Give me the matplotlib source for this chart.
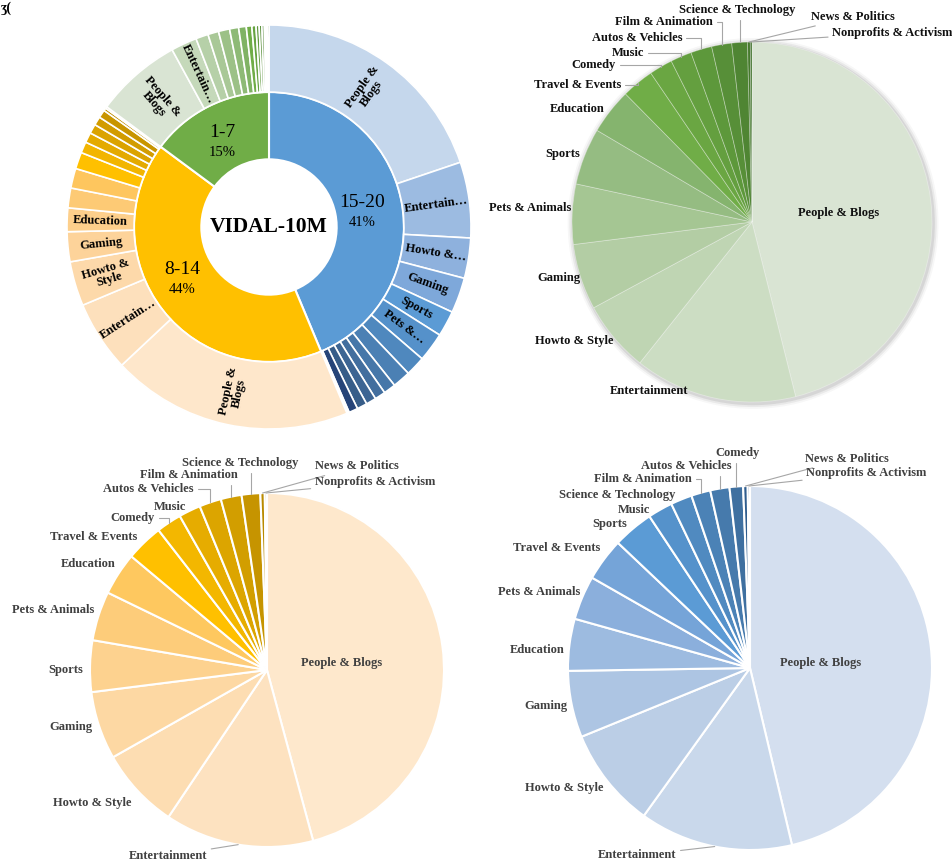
import numpy as np
import matplotlib.pyplot as plt
from matplotlib.patches import Circle

plt.rcParams['font.family'] = ['Liberation Serif', 'DejaVu Serif']

W, H = 952, 863

# ---------------- data ----------------
# sunburst, inner ring (age groups) - printed labels
inner_groups = ['15-20', '8-14', '1-7']
inner_share = [41, 44, 15]

# sunburst, outer ring (category share of the whole in %, per group, in drawing order)
sun_blue = [19.81, 6.06, 3.22, 2.83, 2.06, 2.33, 1.58, 1.44, 0.97, 0.86, 0.81, 0.81, 0.72, 0.11, 0.08]
sun_blue_labels = ['People &\nBlogs', 'Entertain…', 'Howto &…', 'Gaming', 'Sports', 'Pets &…']
sun_yellow = [19.31, 5.67, 3.56, 2.39, 1.89, 1.58, 1.58, 1.33, 0.89, 0.81, 0.75, 0.69, 0.64, 0.22, 0.14]
sun_yellow_labels = ['People &\nBlogs', 'Entertain…', 'Howto &\nStyle', 'Gaming', 'Education']
sun_green = [6.89, 2.08, 1.0, 0.86, 0.89, 0.72, 0.61, 0.44, 0.33, 0.25, 0.22, 0.19, 0.13, 0.10, 0.14]
sun_green_labels = ['People &\nBlogs', 'Entertain…']

# pie 1-7 (green)
cats_green = ['People & Blogs', 'Entertainment', 'Howto & Style', 'Gaming', 'Pets & Animals',
              'Sports', 'Education', 'Travel & Events', 'Comedy', 'Music', 'Autos & Vehicles',
              'Film & Animation', 'Science & Technology', 'News & Politics', 'Nonprofits & Activism']
share_green = [46.1, 14.6, 6.4, 5.9, 5.4, 5.1, 4.1, 2.9, 2.1, 1.9, 1.9, 1.8, 1.4, 0.25, 0.15]

# pie 8-14 (yellow)
cats_yellow = ['People & Blogs', 'Entertainment', 'Howto & Style', 'Gaming', 'Sports',
               'Pets & Animals', 'Education', 'Travel & Events', 'Comedy', 'Music',
               'Autos & Vehicles', 'Film & Animation', 'Science & Technology', 'News & Politics',
               'Nonprofits & Activism']
share_yellow = [45.8, 13.6, 7.4, 6.2, 4.7, 4.5, 3.9, 3.4, 2.3, 2.0, 2.0, 1.9, 1.7, 0.4, 0.2]

# pie 15-20 (blue)
cats_blue = ['People & Blogs', 'Entertainment', 'Howto & Style', 'Gaming', 'Education',
             'Pets & Animals', 'Travel & Events', 'Sports', 'Music', 'Science & Technology',
             'Film & Animation', 'Autos & Vehicles', 'Comedy', 'News & Politics',
             'Nonprofits & Activism']
share_blue = [46.2, 13.6, 8.9, 5.9, 4.6, 3.9, 3.8, 3.6, 2.2, 1.9, 1.7, 1.7, 1.2, 0.4, 0.2]

# ---------------- styles ----------------
inner_colors = ['#5B9BD5', '#FFC000', '#70AD47']
sun_blue_colors = ['#C5D7EC', '#9CBBE1', '#8EB1DD', '#7EA8DA', '#5B9BD5', '#5591CA', '#4F88BE',
                   '#4B80B4', '#4677A9', '#426E9E', '#3D6593', '#375D89', '#264478', '#A9C4E6', '#DCE6F2']
sun_yellow_colors = ['#FEE7CB', '#FDE0BC', '#FDD9AA', '#FDD39A', '#FDCF8B', '#FDCA75', '#FEC65E',
                     '#FFC000', '#F2B500', '#E4AA00', '#DBA300', '#D29C00', '#C89500', '#BE8E00', '#B48700']
sun_green_colors = ['#D9E4D3', '#C5D9BA', '#B6D0A8', '#A9C897', '#9CC187', '#8EBA76', '#80B364',
                    '#70AD47', '#67A342', '#60993D', '#598F39', '#528635', '#4B7D31', '#44742D', '#3D6B29']
green_colors = ['#D9E4D3', '#CCDDC3', '#BFD5B3', '#B3CDA4', '#A5C693', '#95BC82', '#85B46E', '#70AD47',
                '#6AA642', '#649F3F', '#5D983B', '#578F38', '#4F8533', '#467A2D', '#3C6E27']
yellow_colors = ['#FEE8CC', '#FDE2C0', '#FDDDB2', '#FDD8A3', '#FDD28F', '#FDCC7A', '#FEC85F', '#FFC000',
                 '#F3B700', '#E6AC00', '#DCA500', '#D29E00', '#C69400', '#B98A00', '#A67C00']
blue_colors = ['#D4DFEF', '#C9D8EB', '#BBCEE6', '#ADC5E3', '#9DBBE0', '#8BAFDC', '#75A4D8', '#5B9BD5',
               '#5592CB', '#508AC0', '#4B82B6', '#467AAC', '#3F70A0', '#2F5D8E', '#254D7C']

# label positions (pie radius units)
pos_green = [(0.48, 0.05), (-0.57, -0.94), (-0.99, -0.66), (-1.07, -0.31), (-1.23, 0.08),
             (-1.05, 0.38), (-0.97, 0.63), (-0.97, 0.76), (-0.88, 0.87), (-0.69, 0.94),
             (-0.64, 1.02), (-0.49, 1.11), (-0.08, 1.18), (0.56, 1.14), (0.78, 1.05)]
lead_green = [7, 8, 9, 10, 11, 12, 13, 14]
pos_yellow = [(0.42, 0.04), (-0.56, -1.05), (-0.99, -0.75), (-1.11, -0.32), (-1.14, 0.0),
              (-1.21, 0.34), (-1.01, 0.60), (-0.98, 0.75), (-0.76, 0.86), (-0.55, 0.92),
              (-0.67, 1.02), (-0.44, 1.10), (-0.15, 1.17), (0.51, 1.15), (0.61, 1.06)]
lead_yellow = [1, 8, 10, 11, 12, 13, 14]
pos_blue = [(0.39, 0.03), (-0.62, -1.03), (-1.02, -0.66), (-1.12, -0.21), (-1.17, 0.10),
            (-1.16, 0.42), (-1.06, 0.66), (-0.77, 0.79), (-0.64, 0.87), (-0.73, 0.95),
            (-0.59, 1.04), (-0.35, 1.11), (-0.07, 1.18), (0.53, 1.15), (0.64, 1.07)]
lead_blue = [1, 10, 11, 12, 13, 14]

fig = plt.figure(figsize=(W / 100, H / 100), dpi=100)


def pie_axes(cx, cy, r):
    ax = fig.add_axes([(cx - r) / W, 1 - (cy + r) / H, 2 * r / W, 2 * r / H])
    return ax


def mid_angles(vals):
    vals = np.asarray(vals, dtype=float)
    cum = np.cumsum(vals) / vals.sum() * 360
    start = cum - vals / vals.sum() * 360
    return 90 - (start + cum) / 2  # math angle, degrees


def labelled_pie(ax, vals, cats, colors, pos, leads, txtcolor, edge, lw):
    ax.pie(vals, colors=colors, startangle=90, counterclock=False, radius=1,
           wedgeprops=dict(edgecolor=edge, linewidth=lw))
    ang = np.deg2rad(mid_angles(vals))
    for i, (name, (x, y)) in enumerate(zip(cats, pos)):
        if i in leads:
            px, py = np.cos(ang[i]), np.sin(ang[i])
            if x < 0 and y > 0:
                cs = 'angle,angleA=0,angleB=90,rad=0'
            else:
                cs = 'arc3'
            ax.annotate(name, xy=(px, py), xytext=(x, y), ha='center', va='center',
                        fontsize=9, fontweight='bold', color=txtcolor, annotation_clip=False,
                        arrowprops=dict(arrowstyle='-', color='#a6a6a6', lw=0.8,
                                        shrinkA=1, shrinkB=0, connectionstyle=cs))
        else:
            ax.text(x, y, name, ha='center', va='center', fontsize=9,
                    fontweight='bold', color=txtcolor)
    ax.set_xlim(-1, 1)
    ax.set_ylim(-1, 1)


# ---------------- sunburst ----------------
ax = pie_axes(269, 227, 202)
r_hole, r_mid = 0.335, 0.668
inner_drawn = [sum(sun_blue), sum(sun_yellow), sum(sun_green)]
ax.pie(inner_drawn, colors=inner_colors, radius=r_mid, startangle=90, counterclock=False,
       wedgeprops=dict(width=r_mid - r_hole, edgecolor='white', linewidth=1.5))
outer_vals = sun_blue + sun_yellow + sun_green
outer_cols = sun_blue_colors + sun_yellow_colors + sun_green_colors
ax.pie(outer_vals, colors=outer_cols, radius=1.0, startangle=90, counterclock=False,
       wedgeprops=dict(width=1 - r_mid, edgecolor='white', linewidth=1.2))

outer_labels = (sun_blue_labels + [''] * (len(sun_blue) - len(sun_blue_labels))
                + sun_yellow_labels + [''] * (len(sun_yellow) - len(sun_yellow_labels))
                + sun_green_labels + [''] * (len(sun_green) - len(sun_green_labels)))
r_lab = (1 + r_mid) / 2
for lab, th in zip(outer_labels, mid_angles(outer_vals)):
    if not lab:
        continue
    th = (th + 180) % 360 - 180
    rot = th if -90 <= th <= 90 else th + 180
    t = np.deg2rad(th)
    ax.text(r_lab * np.cos(t), r_lab * np.sin(t), lab, rotation=rot, rotation_mode='anchor',
            ha='center', va='center', fontsize=9, fontweight='bold', linespacing=0.95)

inner_pos = [(0.46, 0.12), (-0.43, -0.21), (-0.23, 0.47)]
for g, s, (x, y) in zip(inner_groups, inner_share, inner_pos):
    ax.text(x, y, g, ha='center', va='center', fontsize=14)
    ax.text(x, y - 0.1, f'{s}%', ha='center', va='center', fontsize=10.5)
ax.text(0, 0, 'VIDAL-10M', ha='center', va='center', fontsize=15.5, fontweight='bold')
ax.set_xlim(-1, 1)
ax.set_ylim(-1, 1)

# ---------------- green pie (1-7) ----------------
ax = pie_axes(752, 222, 180)
for k, a in enumerate([0.22, 0.14, 0.08]):
    ax.add_patch(Circle((0.006, -0.008), 1.0 + 0.01 * (k + 1), color='#9a9a9a', alpha=a,
                        lw=0, zorder=0, clip_on=False))
labelled_pie(ax, share_green, cats_green, green_colors, pos_green, lead_green,
             '#111111', (1, 1, 1, 0.35), 0.6)

# ---------------- yellow pie (8-14) ----------------
ax = pie_axes(267, 670, 177)
labelled_pie(ax, share_yellow, cats_yellow, yellow_colors, pos_yellow, lead_yellow,
             '#404040', 'white', 1.5)

# ---------------- blue pie (15-20) ----------------
ax = pie_axes(750, 668, 182)
labelled_pie(ax, share_blue, cats_blue, blue_colors, pos_blue, lead_blue,
             '#404040', 'white', 1.5)

# panel mark fragment in the corner
fig.text(0.001, 0.998, 'ʒ(', fontsize=10, fontweight='bold', ha='left', va='top')

fig.savefig('out.png', dpi=100)
